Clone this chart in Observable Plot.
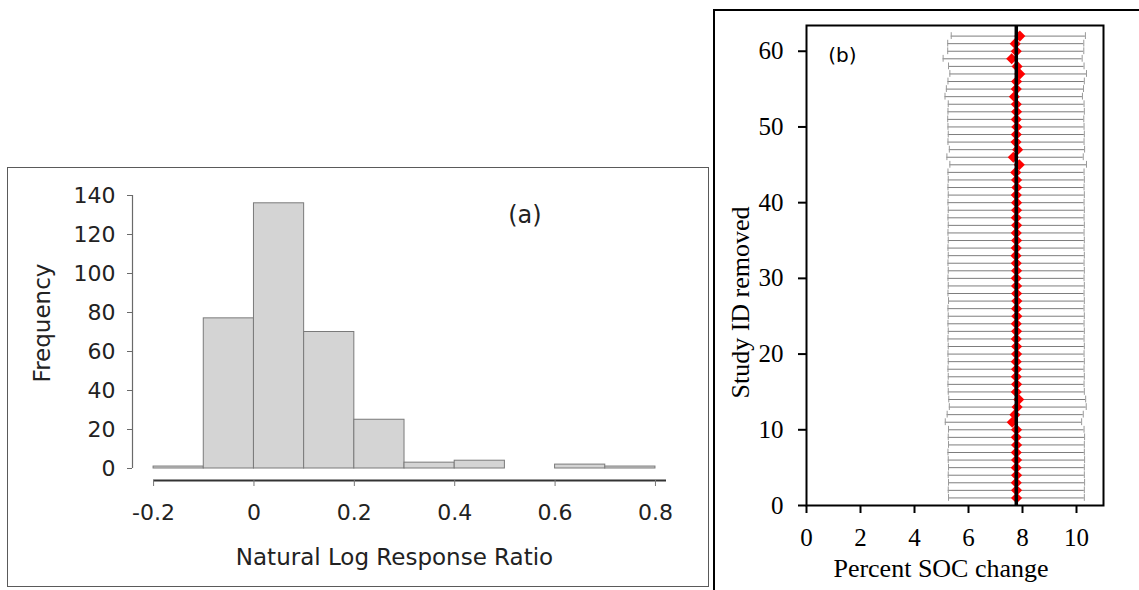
<!DOCTYPE html>
<html><head><meta charset="utf-8">
<script src="https://cdn.jsdelivr.net/npm/d3@7"></script>
<script src="https://cdn.jsdelivr.net/npm/@observablehq/plot@0.6"></script>
<style>
html,body{margin:0;padding:0;background:#fff;width:1139px;height:590px;overflow:hidden;position:relative}
#boxA{position:absolute;left:7px;top:167px;width:702px;height:420px;box-sizing:border-box;border:1.5px solid #5a5a5a;}
#boxB{position:absolute;left:713px;top:9px;width:426px;height:581px;box-sizing:border-box;border-left:2px solid #000;border-top:2px solid #000;}
#plotA{position:absolute;left:8px;top:168px}
#plotB{position:absolute;left:716px;top:12px}
</style></head><body>
<div id="boxA"></div><div id="boxB"></div>
<div id="plotA"></div><div id="plotB"></div>
<script>
// ---------- Panel (a): histogram ----------
const binStart = [-0.2, -0.1, 0, 0.1, 0.2, 0.3, 0.4, 0.5, 0.6, 0.7];
const binEnd   = [-0.1, 0, 0.1, 0.2, 0.3, 0.4, 0.5, 0.6, 0.7, 0.8];
const frequency = [1, 77, 136, 70, 25, 3, 4, 0, 2, 1];
const xTicksA = [-0.2, 0, 0.2, 0.4, 0.6, 0.8];
const yTicksA = [0, 20, 40, 60, 80, 100, 120, 140];
const xDomainA = [-0.242, 0.822];
const yDomainA = [0, 140];
const xAxisLineA = [-0.2, 0.822];
const labelA = {text: "(a)", x: 0.54, y: 130};

// ---------- Panel (b): leave-one-out sensitivity ----------
const studyId = [1,2,3,4,5,6,7,8,9,10,11,12,13,14,15,16,17,18,19,20,21,22,23,24,25,26,27,28,29,30,31,32,33,34,35,36,37,38,39,40,41,42,43,44,45,46,47,48,49,50,51,52,53,54,55,56,57,58,59,60,61,62];
const estimate = [7.78,7.78,7.77,7.78,7.77,7.78,7.77,7.78,7.77,7.78,7.62,7.72,7.80,7.86,7.77,7.78,7.77,7.78,7.77,7.78,7.78,7.77,7.78,7.77,7.79,7.78,7.79,7.78,7.78,7.77,7.78,7.77,7.76,7.77,7.78,7.77,7.78,7.77,7.78,7.78,7.77,7.79,7.78,7.75,7.88,7.66,7.82,7.76,7.77,7.79,7.77,7.78,7.77,7.70,7.77,7.78,7.90,7.80,7.60,7.77,7.73,7.90];
const lowerCI = [5.26,5.25,5.26,5.25,5.26,5.25,5.24,5.26,5.25,5.26,5.14,5.21,5.29,5.27,5.25,5.24,5.25,5.24,5.25,5.24,5.25,5.24,5.25,5.24,5.25,5.24,5.26,5.24,5.25,5.24,5.25,5.24,5.25,5.24,5.25,5.24,5.25,5.24,5.25,5.24,5.25,5.24,5.25,5.24,5.31,5.20,5.29,5.24,5.25,5.24,5.23,5.24,5.25,5.13,5.18,5.24,5.31,5.26,5.06,5.23,5.23,5.36];
const upperCI = [10.29,10.29,10.30,10.29,10.29,10.30,10.29,10.29,10.30,10.28,10.19,10.25,10.36,10.34,10.29,10.28,10.29,10.28,10.29,10.28,10.29,10.28,10.29,10.28,10.29,10.28,10.29,10.28,10.29,10.28,10.29,10.28,10.29,10.28,10.29,10.28,10.29,10.28,10.29,10.28,10.29,10.28,10.29,10.28,10.37,10.25,10.30,10.28,10.29,10.28,10.27,10.29,10.28,10.22,10.26,10.29,10.37,10.28,10.21,10.27,10.27,10.33];
const overallEstimate = 7.77;
const xTicksB = [0, 2, 4, 6, 8, 10];
const yTicksB = [0, 10, 20, 30, 40, 50, 60];
const xDomainB = [0, 11];
const yDomainB = [0, 63.4];
const labelB = {text: "(b)", x: 1.33, y: 59.4};

const sansA = "'DejaVu Sans', sans-serif";
const serifB = "'Liberation Serif', 'Times New Roman', serif";

const bins = binStart.map((s, i) => ({x1: s, x2: binEnd[i], y: frequency[i]}));

const plotA = Plot.plot({
  width: 701, height: 418,
  marginLeft: 124, marginRight: 43, marginTop: 27, marginBottom: 106,
  x: {domain: xDomainA},
  y: {domain: yDomainA, insetBottom: 12},
  style: {fontFamily: sansA, color: "#222", background: "transparent", overflow: "visible"},
  marks: [
    Plot.rectY(bins, {x1: "x1", x2: "x2", y: "y", fill: "#d4d4d4", stroke: "#7a7a7a", strokeWidth: 1}),
    Plot.ruleX([xDomainA[0]], {y1: yDomainA[0], y2: yDomainA[1], stroke: "#6a6a6a", strokeWidth: 1.2}),
    Plot.axisY({ticks: yTicksA, tickSize: 5, tickPadding: 12, fontSize: 22, tickFormat: d => String(d), stroke: "#6a6a6a", fill: "#222", label: null}),
    Plot.ruleY([0], {x1: xAxisLineA[0], x2: xAxisLineA[1], dy: 12, stroke: "#333", strokeWidth: 2}),
    Plot.axisX({ticks: xTicksA, tickSize: 6, tickPadding: 18, fontSize: 22, tickFormat: d => String(d), stroke: "#777", fill: "#222", label: null}),
    Plot.text(["Frequency"], {frameAnchor: "left", textAnchor: "middle", lineAnchor: "middle", dx: -90, dy: -15, rotate: -90, fontSize: 23, fill: "#222"}),
    Plot.text(["Natural Log Response Ratio"], {frameAnchor: "bottom", lineAnchor: "middle", dx: -5, dy: 77, fontSize: 23, fill: "#222"}),
    Plot.text([labelA], {x: "x", y: "y", text: "text", fontSize: 24, fill: "#222"})
  ]
});
document.getElementById("plotA").appendChild(plotA);

const rows = studyId.map((id, i) => ({id, est: estimate[i], lo: lowerCI[i], hi: upperCI[i]}));

const plotB = Plot.plot({
  width: 423, height: 578,
  marginLeft: 90, marginRight: 36, marginTop: 13, marginBottom: 85,
  x: {domain: xDomainB},
  y: {domain: yDomainB},
  style: {fontFamily: serifB, color: "#000", background: "transparent", overflow: "visible"},
  marks: [
    Plot.ruleY(rows, {y: "id", x1: "lo", x2: "hi", stroke: "#7d7d7d", strokeWidth: 1}),
    Plot.ruleX(rows, {x: "lo", y1: d => d.id - 0.45, y2: d => d.id + 0.45, stroke: "#9a9a9a", strokeWidth: 1}),
    Plot.ruleX(rows, {x: "hi", y1: d => d.id - 0.45, y2: d => d.id + 0.45, stroke: "#9a9a9a", strokeWidth: 1}),
    Plot.dot(rows, {x: "est", y: "id", symbol: "diamond2", r: 5, fill: "#ff0000", stroke: "none"}),
    Plot.ruleX([overallEstimate], {stroke: "#000", strokeWidth: 3.5}),
    Plot.frame({stroke: "#000", strokeWidth: 2}),
    Plot.axisX({ticks: xTicksB, tickSize: 8, tickPadding: 15, fontSize: 25, strokeWidth: 2, stroke: "#000", fill: "#000", label: null, tickFormat: d => String(d)}),
    Plot.axisY({ticks: yTicksB, tickSize: 8, tickPadding: 15, fontSize: 25, strokeWidth: 2, stroke: "#000", fill: "#000", label: null, tickFormat: d => String(d)}),
    Plot.text(["Percent SOC change"], {frameAnchor: "bottom", lineAnchor: "middle", dx: -14, dy: 63, fontSize: 26, fill: "#000"}),
    Plot.text(["Study ID removed"], {frameAnchor: "left", textAnchor: "middle", lineAnchor: "middle", dx: -66, dy: 37, rotate: -90, fontSize: 26, fill: "#000"}),
    Plot.text([labelB], {x: "x", y: "y", text: "text", fontSize: 20, fontFamily: sansA, fill: "#000"})
  ]
});
document.getElementById("plotB").appendChild(plotB);
</script>
</body></html>
